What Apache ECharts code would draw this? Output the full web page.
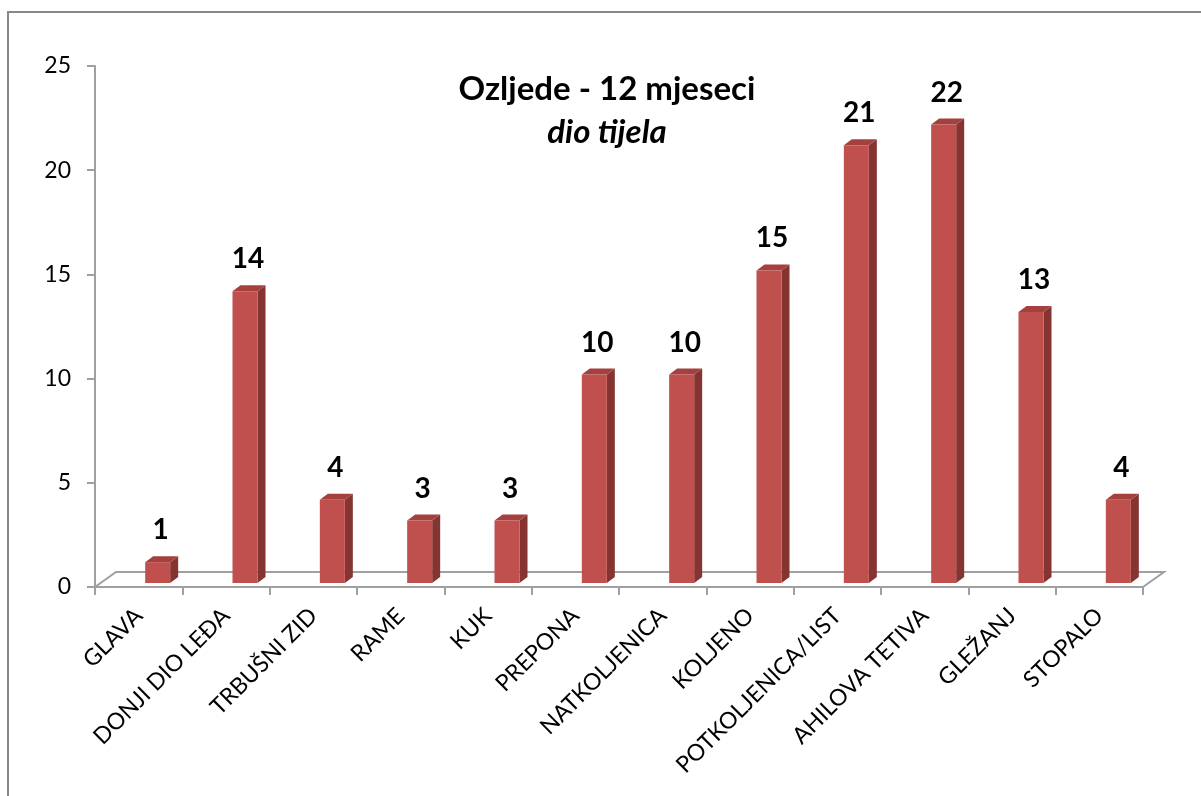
<!DOCTYPE html>
<html>
<head>
<meta charset="utf-8">
<script src="https://cdn.jsdelivr.net/npm/echarts@6/dist/echarts.min.js"></script>
<style>
  html, body { margin: 0; padding: 0; background: #fff; }
  #chart { width: 1201px; height: 796px; }
</style>
</head>
<body>
<div id="chart"></div>
<script>
// injuries over 12 months, by body part
const categories = ['GLAVA', 'DONJI DIO LEĐA', 'TRBUŠNI ZID', 'RAME', 'KUK', 'PREPONA',
  'NATKOLJENICA', 'KOLJENO', 'POTKOLJENICA/LIST', 'AHILOVA TETIVA', 'GLEŽANJ', 'STOPALO']
const injuries = [1, 14, 4, 3, 3, 10, 10, 15, 21, 22, 13, 4]
const yTicks = { min: 0, max: 25, interval: 5 }

// fake 3d look (excel style)
const BAR_W = 25
const OFF_X = 19, OFF_Y = -4      // bar position relative to band centre / axis
const DEPTH_X = 8, DEPTH_Y = -6   // bar side depth
const FLOOR_X = 21, FLOOR_Y = -15 // floor depth
const FONT = 'Lato, "Noto Sans", sans-serif'

const chart = echarts.init(document.getElementById('chart'), null, { renderer: 'canvas' })

function renderBar(params, api) {
  const i = api.value(0)
  const v = api.value(1)
  const base = api.coord([i, 0])
  const top = api.coord([i, v])
  const x0 = base[0] + OFF_X - BAR_W / 2
  const x1 = x0 + BAR_W
  const by = base[1] + OFF_Y
  const ty = top[1] + OFF_Y
  return {
    type: 'group',
    children: [
      { type: 'polygon', shape: { points: [[x1, ty], [x1 + DEPTH_X, ty + DEPTH_Y], [x1 + DEPTH_X, by + DEPTH_Y], [x1, by]] },
        style: { fill: '#853432' } },
      { type: 'polygon', shape: { points: [[x0, ty], [x0 + DEPTH_X, ty + DEPTH_Y], [x1 + DEPTH_X, ty + DEPTH_Y], [x1, ty]] },
        style: { fill: '#a4403e' } },
      { type: 'rect', shape: { x: x0, y: ty, width: BAR_W, height: by - ty },
        style: { fill: '#c0504d' } },
      { type: 'text', x: x0 + BAR_W / 2 + 3, y: ty - 32,
        style: { text: String(v), fill: '#000', font: 'bold 28px ' + FONT, align: 'center', verticalAlign: 'middle' } }
    ]
  }
}

function renderFloor(params, api) {
  const cs = params.coordSys
  const x = cs.x, y = cs.y + cs.height, w = cs.width
  return {
    type: 'polyline',
    shape: { points: [[x, y], [x + FLOOR_X, y + FLOOR_Y], [x + w + FLOOR_X, y + FLOOR_Y], [x + w, y]] },
    style: { stroke: '#a0a0a0', lineWidth: 2, fill: null },
    z2: -1
  }
}

chart.setOption({
  backgroundColor: '#fff',
  animation: false,
  title: {
    text: 'Ozljede - 12 mjeseci',
    subtext: 'dio tijela',
    left: 602, top: 68, textAlign: 'center',
    itemGap: 10,
    textStyle: { fontFamily: FONT, fontWeight: 'bold', fontSize: 33, color: '#000' },
    subtextStyle: { fontFamily: FONT, fontWeight: 'bold', fontStyle: 'italic', fontSize: 33, color: '#000' }
  },
  graphic: [
    { type: 'rect', shape: { x: 8, y: 12, width: 1300, height: 900 },
      style: { fill: null, stroke: '#888', lineWidth: 2 }, silent: true }
  ],
  grid: { left: 95, right: 58, top: 66, bottom: 209 },
  xAxis: {
    type: 'category',
    data: categories,
    axisLine: { lineStyle: { color: '#a0a0a0', width: 2 } },
    axisTick: { show: true, length: 8, lineStyle: { color: '#a0a0a0', width: 2 } },
    axisLabel: { rotate: 45, interval: 0, margin: 25, color: '#000', fontFamily: FONT, fontSize: 23 }
  },
  yAxis: {
    type: 'value',
    min: yTicks.min, max: yTicks.max, interval: yTicks.interval,
    axisLine: { show: true, lineStyle: { color: '#a0a0a0', width: 2 } },
    axisTick: { show: true, length: 8, lineStyle: { color: '#a0a0a0', width: 2 } },
    axisLabel: { margin: 24, color: '#000', fontFamily: FONT, fontSize: 23 },
    splitLine: { show: false }
  },
  series: [
    { type: 'custom', renderItem: renderFloor, data: [0], silent: true, z: 1 },
    { type: 'custom', renderItem: renderBar, data: injuries.map((v, i) => [i, v]), z: 2 }
  ]
})
</script>
</body>
</html>
